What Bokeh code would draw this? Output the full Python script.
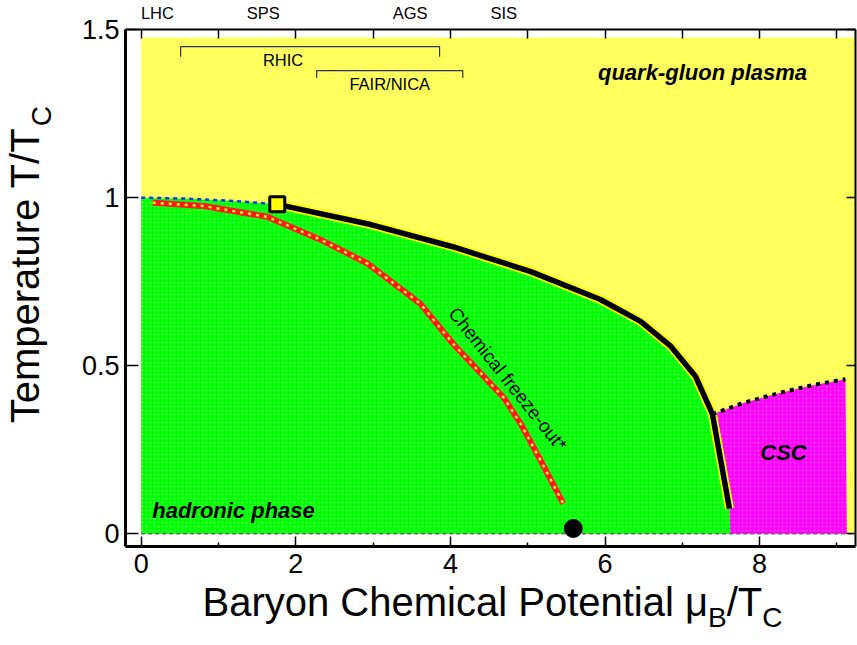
import math
from bokeh.plotting import figure
from bokeh.models import Range1d, LinearAxis, FixedTicker, Label, AllLabels
from bokeh.embed import file_html
from bokeh.resources import INLINE

# ---------------- data ----------------
qgp_x = [0.0, 9.24]
qgp_top = 1.476

crossover_x = [0.0, 0.6, 1.2, 1.76]
crossover_y = [1.0, 0.997, 0.99, 0.98]

boundary_x = [1.76, 2.97, 4.03, 5.04, 5.94, 6.46, 6.85, 7.17, 7.39, 7.61]
boundary_y = [0.98, 0.92, 0.854, 0.78, 0.697, 0.632, 0.558, 0.469, 0.356, 0.075]
hadron_end_x = 7.62

csc_x = [7.39, 7.8, 8.27, 8.7, 9.11]
csc_y = [0.356, 0.39, 0.42, 0.443, 0.46]
csc_right_x = 9.13

freeze_x = [0.15, 0.81, 1.63, 2.32, 2.93, 3.61, 4.04, 4.69, 4.91, 5.17, 5.46]
freeze_y = [0.985, 0.975, 0.943, 0.875, 0.804, 0.685, 0.564, 0.405, 0.327, 0.217, 0.09]

crit_x, crit_y = [1.76], [0.98]
nuc_x, nuc_y = [5.59], [0.016]

exp_names = ["LHC", "SPS", "AGS", "SIS"]
exp_x = [0.21, 1.58, 3.48, 4.69]

ranges = [("RHIC", 0.51, 3.86, 1.449), ("FAIR/NICA", 2.27, 4.16, 1.378)]

x_ticks = [0, 2, 4, 6, 8]
x_minor = [1, 3, 5, 7, 9]
y_ticks = [0, 0.5, 1, 1.5]
y_labels = ["0", "0.5", "1", "1.5"]

# ---------------- geometry (page pixels) ----------------
CW, CH = 857, 645
FL, FR, FT, FB = 125, 855, 27, 546
X0, SX = 140.7, 77.3
Y0 = 533.3
SY = (Y0 - FT) / 1.5


def X(px):
    return (px - X0) / SX


def Y(py):
    return (Y0 - py) / SY


FONT = "Liberation Sans"

p = figure(width=CW, height=CH, output_backend="svg", toolbar_location=None,
           x_range=Range1d(X(FL), X(FR)), y_range=Range1d(Y(FB), 1.5001),
           min_border_left=FL, min_border_right=CW - FR,
           min_border_top=FT, min_border_bottom=CH - FB)
p.outline_line_color = None
p.xgrid.visible = False
p.ygrid.visible = False

# numeric axes
xa = p.xaxis[0]
xa.ticker = FixedTicker(ticks=x_ticks, minor_ticks=x_minor)
ya = p.yaxis[0]
ya.ticker = FixedTicker(ticks=y_ticks, minor_ticks=[])
ya.major_label_overrides = {t: l for t, l in zip(y_ticks, y_labels)}
for ax in (xa, ya):
    ax.axis_line_width = 3
    ax.axis_line_color = "black"
    ax.major_tick_out = 0
    ax.minor_tick_out = 0
    ax.major_tick_line_width = 1.5
    ax.minor_tick_line_width = 1.5
    ax.major_label_text_font = FONT
    ax.major_label_text_font_size = "27px"
    ax.major_label_text_color = "black"
xa.major_tick_in = 10
xa.minor_tick_in = 4
xa.major_label_standoff = 7
ya.major_tick_in = 13
ya.major_label_standoff = 6


def text_axis(positions, texts, size, standoff, side, orient="horizontal"):
    pos = [round(v, 4) for v in positions]
    ax = LinearAxis(ticker=FixedTicker(ticks=pos, minor_ticks=[]),
                    major_label_overrides=dict(zip(pos, texts)),
                    major_label_text_font=FONT, major_label_text_font_size=size,
                    major_label_text_color="black",
                    major_label_standoff=standoff, major_label_orientation=orient,
                    major_tick_in=0, major_tick_out=0, minor_tick_in=0, minor_tick_out=0,
                    axis_line_color=None, major_tick_line_color=None,
                    minor_tick_line_color=None, major_label_policy=AllLabels())
    p.add_layout(ax, side)
    return ax


# top axis: experiment names as labels, integer ticks as inward minor ticks
top = LinearAxis(ticker=FixedTicker(ticks=exp_x, minor_ticks=list(range(0, 10))),
                 major_label_overrides=dict(zip(exp_x, exp_names)),
                 major_label_text_font=FONT, major_label_text_font_size="16.5px",
                 major_label_text_color="black", major_label_standoff=8,
                 major_tick_in=0, major_tick_out=0, major_tick_line_color=None,
                 minor_tick_in=9, minor_tick_out=0, minor_tick_line_width=1.5,
                 axis_line_width=2, major_label_policy=AllLabels())
p.add_layout(top, "above")

right = LinearAxis(ticker=FixedTicker(ticks=y_ticks, minor_ticks=[]),
                   major_label_overrides={t: "" for t in y_ticks},
                   major_label_text_font_size="1px", major_label_standoff=0,
                   major_tick_in=9, major_tick_out=0, axis_line_width=2,
                   major_tick_line_width=1.5)
p.add_layout(right, "right")

# axis titles (with subscripts) as label rows of extra axes
W = {' ': 0.278, 'B': 0.667, 'a': 0.556, 'r': 0.333, 'y': 0.5, 'o': 0.556, 'n': 0.556,
     'C': 0.722, 'h': 0.556, 'e': 0.556, 'm': 0.833, 'i': 0.222, 'c': 0.5, 'l': 0.222,
     'P': 0.667, 't': 0.278, 'μ': 0.576, '/': 0.278, 'T': 0.611, 'p': 0.556, 'u': 0.556}


def tw(s, size):
    return sum(W.get(ch, 0.556) for ch in s) * size


xtitle = [("Baryon Chemical Potential μ", 40), ("B", 28), ("/T", 40), ("C", 28)]
total = sum(tw(s, f) for s, f in xtitle)
cx = 492 - total / 2
xcent = []
for s, f in xtitle:
    xcent.append(X(cx + tw(s, f) / 2))
    cx += tw(s, f)
text_axis([xcent[0], xcent[2]], [xtitle[0][0], xtitle[2][0]], "40px", 4, "below")
text_axis([xcent[1], xcent[3]], [xtitle[1][0], xtitle[3][0]], "28px", -25, "below")

ytitle = [("Temperature T/T", 40), ("C", 28)]
cy = 424
ycent = []
for s, f in ytitle:
    ycent.append(Y(cy - tw(s, f) / 2))
    cy -= tw(s, f)
text_axis([ycent[1]], [ytitle[1][0]], "28px", 21, "left", "parallel")
text_axis([ycent[0]], [ytitle[0][0]], "40px", -24, "left", "parallel")

# regions
p.quad(left=qgp_x[0], right=qgp_x[1], bottom=0, top=qgp_top,
       fill_color="#ffff5e", line_color=None)

gx = crossover_x + boundary_x[1:] + [hadron_end_x, 0.0]
gy = crossover_y + boundary_y[1:] + [0.0, 0.0]
p.patch(gx, gy, fill_color="#00ff00", line_color=None,
        hatch_pattern="dot", hatch_color="white", hatch_alpha=0.3, hatch_scale=4, hatch_weight=1)

mx = csc_x + [csc_right_x, hadron_end_x, boundary_x[-1]]
my = csc_y + [0.0, 0.0, boundary_y[-1]]
p.patch(mx, my, fill_color="#ff00ff", line_color=None,
        hatch_pattern="dot", hatch_color="white", hatch_alpha=0.3, hatch_scale=4, hatch_weight=1)

# lines
p.line([0, qgp_x[1] - 0.04], [0, 0], line_color="#666666", line_width=1.5, line_dash="4 3")
p.line(crossover_x, crossover_y, line_color="#1030ff", line_width=2.5, line_dash="4 4")
p.line(boundary_x, boundary_y, line_color="#ffff00", line_width=9)
p.line(boundary_x, boundary_y, line_color="black", line_width=5.5)
p.line(csc_x, csc_y, line_color="black", line_width=4, line_dash="4 5")

p.line(freeze_x, freeze_y, line_color="#ff1a1a", line_width=6)
p.line(freeze_x, freeze_y, line_color="#ffee22", line_width=2.5, line_dash="3 5")

p.scatter(crit_x, crit_y, marker="square", size=15, fill_color="#ffff00",
          line_color="black", line_width=3)
p.scatter(nuc_x, nuc_y, marker="circle", size=18, fill_color="black", line_color="black")

# accelerator ranges
for name, x0, x1, yy in ranges:
    drop = 0.03 if name == "RHIC" else 0.022
    p.line([x0, x0, x1, x1], [yy - drop, yy, yy, yy - drop], line_color="#333333", line_width=1.2)
    p.add_layout(Label(x=(x0 + x1) / 2 - (0.35 if name == "RHIC" else 0.0), y=yy - 0.04,
                       text=name, text_font=FONT, text_font_size="16.5px",
                       text_align="center", text_baseline="middle", text_color="black"))

# region names
for txt, px, py in [("quark-gluon plasma", 702, 70), ("CSC", 783, 452), ("hadronic phase", 233, 510)]:
    p.add_layout(Label(x=X(px), y=Y(py), text=txt, text_font=FONT, text_font_size="22px",
                       text_font_style="bold italic", text_align="center",
                       text_baseline="middle", text_color="black"))

p.add_layout(Label(x=X(509), y=Y(380), text="Chemical  freeze-out*", text_font=FONT,
                   text_font_size="19px", angle=-math.atan2(148.7, 118.3),
                   text_align="center", text_baseline="middle", text_color="black"))

open("out.html", "w").write(file_html(p, INLINE))
